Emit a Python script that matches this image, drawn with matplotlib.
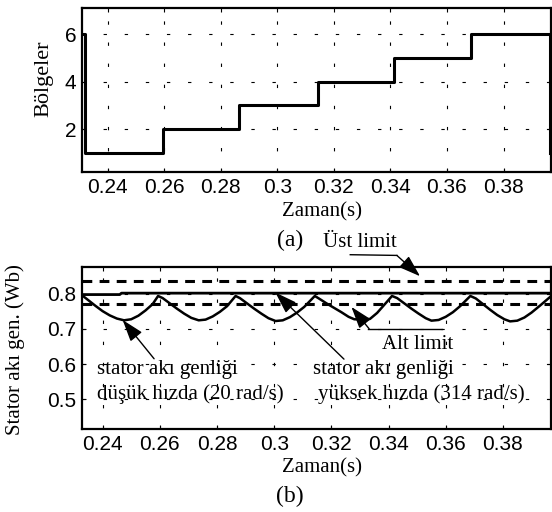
import numpy as np
import matplotlib
matplotlib.use("Agg")
from matplotlib import pyplot as plt

# --- data ---
sector_t = [0.2316, 0.2318, 0.2594, 0.2865, 0.3142, 0.3412, 0.3686, 0.3964]
sector_v = [6, 1, 2, 3, 4, 5, 6, 1]

low_t = [0.2328, 0.2350, 0.2375, 0.2400, 0.2425, 0.2450, 0.2475, 0.2500, 0.2525, 0.2550, 0.2575, 0.2594,
         0.2610, 0.2635, 0.2660, 0.2685, 0.2710, 0.2736, 0.2760, 0.2785, 0.2810, 0.2835, 0.2865,
         0.2880, 0.2905, 0.2930, 0.2955, 0.2980, 0.3005, 0.3030, 0.3055, 0.3080, 0.3105, 0.3142,
         0.3160, 0.3185, 0.3210, 0.3235, 0.3260, 0.3280, 0.3310, 0.3335, 0.3360, 0.3385, 0.3412,
         0.3430, 0.3455, 0.3480, 0.3505, 0.3530, 0.3550, 0.3575, 0.3600, 0.3625, 0.3650, 0.3686,
         0.3705, 0.3730, 0.3755, 0.3780, 0.3805, 0.3825, 0.3850, 0.3875, 0.3900, 0.3930, 0.3966]
low_v = [0.795, 0.781, 0.765, 0.750, 0.738, 0.729, 0.724, 0.727, 0.737, 0.752, 0.770, 0.793,
         0.787, 0.772, 0.757, 0.743, 0.731, 0.724, 0.726, 0.735, 0.748, 0.764, 0.793,
         0.787, 0.772, 0.757, 0.743, 0.730, 0.722, 0.724, 0.733, 0.746, 0.762, 0.793,
         0.784, 0.771, 0.759, 0.747, 0.734, 0.727, 0.726, 0.728, 0.745, 0.768, 0.793,
         0.787, 0.772, 0.757, 0.743, 0.730, 0.723, 0.725, 0.734, 0.747, 0.764, 0.793,
         0.786, 0.770, 0.754, 0.739, 0.727, 0.721, 0.723, 0.732, 0.746, 0.766, 0.791]

high_t = [0.2328, 0.2460, 0.2466, 0.3966]
high_v = [0.797, 0.797, 0.801, 0.801]

upper_limit = 0.836
lower_limit = 0.771

xticks = [0.24, 0.26, 0.28, 0.30, 0.32, 0.34, 0.36, 0.38]
xtick_labels = ["0.24", "0.26", "0.28", "0.3", "0.32", "0.34", "0.36", "0.38"]

plt.rcParams["font.family"] = "Liberation Sans"
serif = "Liberation Serif"
grid_ls = (0, (3, 16))

fig = plt.figure(figsize=(5.52, 5.12), dpi=100)
ax1 = fig.add_axes([0.1486, 0.6635, 0.8496, 0.3203])
ax2 = fig.add_axes([0.1486, 0.1615, 0.8496, 0.3176])

for ax in (ax1, ax2):
    ax.set_xticks(xticks)
    ax.set_xticklabels(xtick_labels)
    ax.tick_params(direction="in", top=True, right=True, length=3, width=0.8,
                   labelsize=15, pad=4)
    ax.grid(True, color="k", lw=0.8, ls=grid_ls)
    for sp in ax.spines.values():
        sp.set_linewidth(1.6)

# (a) sectors
ax1.plot(sector_t, sector_v, color="k", lw=2.2, drawstyle="steps-post")
ax1.set_xlim(0.2309, 0.3968)
ax1.set_ylim(0.19, 7.08)
ax1.set_yticks([2, 4, 6])

# (b) flux magnitude
ax2.plot(low_t, low_v, color="k", lw=1.8)
ax2.plot(high_t, high_v, color="k", lw=2.0)
ax2.axhline(upper_limit, color="k", lw=2.2, ls=(0, (3.2, 2.4)))
ax2.axhline(lower_limit, color="k", lw=2.2, ls=(0, (3.2, 2.4)))
ax2.set_xlim(0.2328, 0.3968)
ax2.set_ylim(0.415, 0.876)
ax2.set_yticks([0.5, 0.6, 0.7, 0.8])
ax2.set_yticklabels(["0.5", "0.6", "0.7", "0.8"])

arrow = dict(arrowstyle="-|>,head_length=0.9,head_width=0.3", mutation_scale=15,
             color="k", lw=1.0, shrinkA=0, shrinkB=0)
tkw = dict(fontsize=15, family=serif)

# Üst limit
ax2.text(0.3298, 0.945, "Üst limit", ha="center", va="center", **tkw)
ax2.plot([0.3266, 0.3429], [0.910, 0.908], color="k", lw=1.0, clip_on=False)
ax2.annotate("", xy=(0.351, 0.849), xytext=(0.3429, 0.908), arrowprops=arrow,
             annotation_clip=False)

# Alt limit
ax2.text(0.350, 0.656, "Alt limit", ha="center", va="center", **tkw)
ax2.plot([0.3329, 0.3587], [0.700, 0.700], color="k", lw=1.0)
ax2.annotate("", xy=(0.327, 0.762), xytext=(0.3332, 0.700), arrowprops=arrow)

# low speed
ax2.text(0.2382, 0.585, "stator akı genliği", ha="left", va="center", **tkw)
ax2.text(0.2382, 0.514, "düşük hızda (20 rad/s)", ha="left", va="center", **tkw)
ax2.annotate("", xy=(0.2470, 0.725), xytext=(0.2580, 0.615), arrowprops=arrow)

# high speed
ax2.text(0.3136, 0.585, "stator akı genliği", ha="left", va="center", **tkw)
ax2.text(0.3154, 0.514, "yüksek hızda (314 rad/s)", ha="left", va="center", **tkw)
ax2.annotate("", xy=(0.3004, 0.803), xytext=(0.3244, 0.614), arrowprops=arrow)

# labels placed in pixel positions of the reference
W, H = 552.0, 512.0
fig.text(43.5 / W, 1 - 79 / H, "Bölgeler", rotation=90, ha="center", va="center", fontsize=16, family=serif)
fig.text(15 / W, 1 - 350 / H, "Stator akı gen. (Wb)", rotation=90, ha="center", va="center", **tkw)
fig.text(321.7 / W, 1 - 212 / H, "Zaman(s)", ha="center", va="center", **tkw)
fig.text(321.7 / W, 1 - 468 / H, "Zaman(s)", ha="center", va="center", **tkw)
fig.text(290 / W, 1 - 240.3 / H, "(a)", ha="center", va="center", fontsize=17, family=serif)
fig.text(290 / W, 1 - 496 / H, "(b)", ha="center", va="center", fontsize=17, family=serif)

fig.savefig("out.png", dpi=100)
